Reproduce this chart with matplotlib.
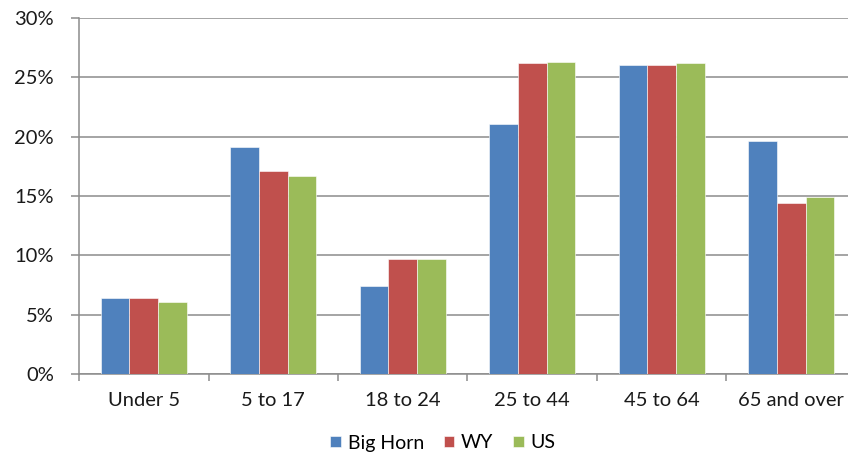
import numpy as np
import matplotlib.pyplot as plt
from matplotlib.ticker import PercentFormatter

# Age distribution by area (percent of population)
categories = ['Under 5', '5 to 17', '18 to 24', '25 to 44', '45 to 64', '65 and over']
big_horn = [6.4, 19.1, 7.4, 21.1, 26.0, 19.6]
wy = [6.4, 17.1, 9.7, 26.2, 26.0, 14.4]
us = [6.1, 16.7, 9.7, 26.3, 26.2, 14.9]

series = [('Big Horn', big_horn, '#4F81BD'),
          ('WY', wy, '#C0504D'),
          ('US', us, '#9BBB59')]

plt.rcParams['font.family'] = ['Lato', 'DejaVu Sans']

fig = plt.figure(figsize=(8.48, 4.58), dpi=100)
# plot area runs slightly past the right edge of the figure
ax = fig.add_axes([79 / 848, 84 / 458, 777 / 848, 356 / 458])

x = np.arange(len(categories))
w = 1 / 4.5
for i, (name, vals, col) in enumerate(series):
    ax.bar(x + (i - 1) * w, vals, width=w, color=col, label=name,
           edgecolor='white', linewidth=0.4, zorder=3)

ax.set_xlim(-0.5, len(categories) - 0.5)
ax.set_ylim(0, 30)
ax.set_yticks(np.arange(0, 31, 5))
ax.yaxis.set_major_formatter(PercentFormatter(decimals=0))
ax.grid(axis='y', color='#8c8c8c', linewidth=1.1, zorder=0)

ax.set_xticks(x)
ax.set_xticklabels(categories)
ax.set_xticks(np.arange(-0.5, len(categories), 1), minor=True)
ax.tick_params(axis='x', which='major', length=0, pad=13, labelsize=14.5, labelcolor='#1a1a1a')
ax.tick_params(axis='x', which='minor', length=5, width=1.1, color='#8c8c8c', direction='out')
ax.tick_params(axis='y', length=6, width=1.1, color='#8c8c8c', pad=12,
               labelsize=14.5, labelcolor='#1a1a1a')

for side in ['top', 'right']:
    ax.spines[side].set_visible(False)
for side in ['left', 'bottom']:
    ax.spines[side].set_color('#8c8c8c')
    ax.spines[side].set_linewidth(1.1)

fig.legend(loc='center', bbox_to_anchor=(443 / 848, 1 - 443 / 458), ncol=3,
           frameon=False, fontsize=14, handlelength=0.55, handleheight=0.55,
           handletextpad=0.35, columnspacing=1.0)

fig.savefig('out.png', dpi=100)
